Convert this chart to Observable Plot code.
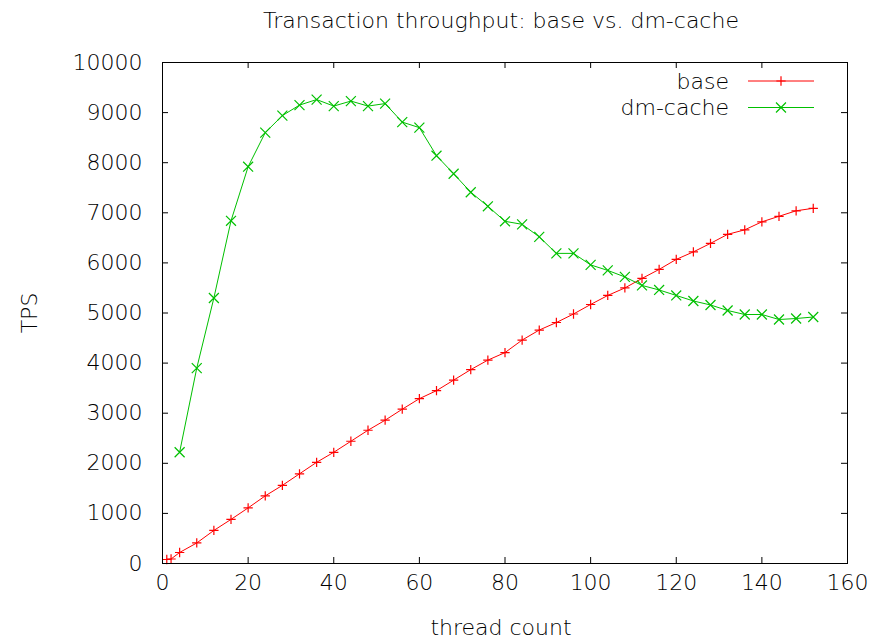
<!DOCTYPE html>
<html>
<head>
<meta charset="utf-8">
<script src="https://cdn.jsdelivr.net/npm/d3@7"></script>
<script src="https://cdn.jsdelivr.net/npm/@observablehq/plot@0.6"></script>
<style>
  body { margin: 0; background: #fff; }
</style>
</head>
<body>
<div id="chart"></div>
<script>
// Thread counts and measured transactions per second for each setup.
const baseThreads = [1, 2, 4, 8, 12, 16, 20, 24, 28, 32, 36, 40, 44, 48, 52, 56, 60, 64, 68, 72, 76, 80,
  84, 88, 92, 96, 100, 104, 108, 112, 116, 120, 124, 128, 132, 136, 140, 144, 148, 152];
const baseTPS = [80, 90, 220, 410, 660, 880, 1110, 1350, 1560, 1790, 2020, 2220, 2440, 2660, 2860, 3080,
  3290, 3450, 3660, 3870, 4060, 4210, 4460, 4660, 4810, 4980, 5170, 5350, 5500, 5690, 5870, 6070,
  6220, 6390, 6570, 6660, 6820, 6930, 7040, 7090];

const cacheThreads = [4, 8, 12, 16, 20, 24, 28, 32, 36, 40, 44, 48, 52, 56, 60, 64, 68, 72, 76, 80,
  84, 88, 92, 96, 100, 104, 108, 112, 116, 120, 124, 128, 132, 136, 140, 144, 148, 152];
const cacheTPS = [2220, 3900, 5300, 6840, 7920, 8600, 8940, 9150, 9260, 9130, 9230, 9130, 9180, 8810,
  8700, 8140, 7780, 7410, 7130, 6830, 6770, 6520, 6190, 6190, 5960, 5850, 5720, 5550, 5460, 5350,
  5240, 5160, 5050, 4970, 4970, 4870, 4890, 4920];

const xTicks = [0, 20, 40, 60, 80, 100, 120, 140, 160];
const yTicks = [0, 1000, 2000, 3000, 4000, 5000, 6000, 7000, 8000, 9000, 10000];

const seriesNames = ["base", "dm-cache"];
const seriesColors = ["#ff0000", "#00c000"];

const rows = [
  ...baseThreads.map((t, i) => ({ series: "base", threads: t, tps: baseTPS[i] })),
  ...cacheThreads.map((t, i) => ({ series: "dm-cache", threads: t, tps: cacheTPS[i] }))
];

const W = 870, H = 638;
const mL = 162, mR = 23, mT = 62, mB = 75;
const innerW = W - mL - mR, innerH = H - mT - mB;
const tickLen = 6;
const textColor = "#000";
const plusR = 3.1, timesR = 4.6;

// Key in the upper right corner: name, line sample and point symbol.
function key(index, scales, values, dims) {
  const g = d3.create("svg:g");
  const right = dims.width - dims.marginRight;
  const top = dims.marginTop;
  const symbols = [d3.symbolPlus, d3.symbolTimes];
  const radii = [plusR, timesR];
  seriesNames.forEach((name, i) => {
    const y = top + 19 + i * 26.5;
    g.append("text")
      .attr("x", right - 118).attr("y", y).attr("dy", "0.35em")
      .attr("text-anchor", "end").attr("fill", textColor)
      .text(name);
    g.append("line")
      .attr("x1", right - 99).attr("x2", right - 33)
      .attr("y1", y).attr("y2", y)
      .attr("stroke", seriesColors[i]).attr("stroke-width", 1);
    g.append("path")
      .attr("d", d3.symbol(symbols[i], Math.PI * radii[i] * radii[i])())
      .attr("transform", `translate(${right - 66},${y})`)
      .attr("fill", "none").attr("stroke", seriesColors[i]).attr("stroke-width", 1.2);
  });
  return g.node();
}

const chart = Plot.plot({
  width: W,
  height: H,
  marginLeft: mL,
  marginRight: mR,
  marginTop: mT,
  marginBottom: mB,
  style: {
    fontFamily: "DejaVu Sans", fontSize: "22px", fontWeight: 300,
    color: textColor, background: "#fff", overflow: "visible"
  },
  x: { domain: [0, 160] },
  y: { domain: [0, 10000] },
  color: { domain: seriesNames, range: seriesColors },
  marks: [
    // inward ticks on all four sides
    Plot.tickX(xTicks, { x: d => d, insetTop: innerH - tickLen, stroke: "#000" }),
    Plot.tickX(xTicks, { x: d => d, insetBottom: innerH - tickLen, stroke: "#000" }),
    Plot.tickY(yTicks, { y: d => d, insetRight: innerW - tickLen, stroke: "#000" }),
    Plot.tickY(yTicks, { y: d => d, insetLeft: innerW - tickLen, stroke: "#000" }),
    Plot.axisX({ ticks: xTicks, tickFormat: d => String(d), tickSize: 0, tickPadding: 11, label: null, fill: textColor }),
    Plot.axisY({ ticks: yTicks, tickFormat: d => String(d), tickSize: 0, tickPadding: 20, label: null, fill: textColor }),
    Plot.line(rows, { x: "threads", y: "tps", z: "series", stroke: "series", strokeWidth: 1 }),
    Plot.dot(rows.filter(d => d.series === "base"), {
      x: "threads", y: "tps", symbol: () => "plus", stroke: "series", r: plusR, strokeWidth: 1.2
    }),
    Plot.dot(rows.filter(d => d.series === "dm-cache"), {
      x: "threads", y: "tps", symbol: () => "times", stroke: "series", r: timesR, strokeWidth: 1.2
    }),
    Plot.frame({ stroke: "#000" }),
    key,
    Plot.text(["Transaction throughput: base vs. dm-cache"], {
      text: d => d, frameAnchor: "top", lineAnchor: "middle", dx: -4, dy: -42, fill: textColor
    }),
    Plot.text(["thread count"], {
      text: d => d, frameAnchor: "bottom", lineAnchor: "middle", dx: -4, dy: 64, fill: textColor
    }),
    Plot.text(["TPS"], {
      text: d => d, frameAnchor: "left", textAnchor: "middle", lineAnchor: "middle",
      dx: -133, rotate: -90, fill: textColor
    })
  ]
});

document.getElementById("chart").appendChild(chart);
</script>
</body>
</html>
